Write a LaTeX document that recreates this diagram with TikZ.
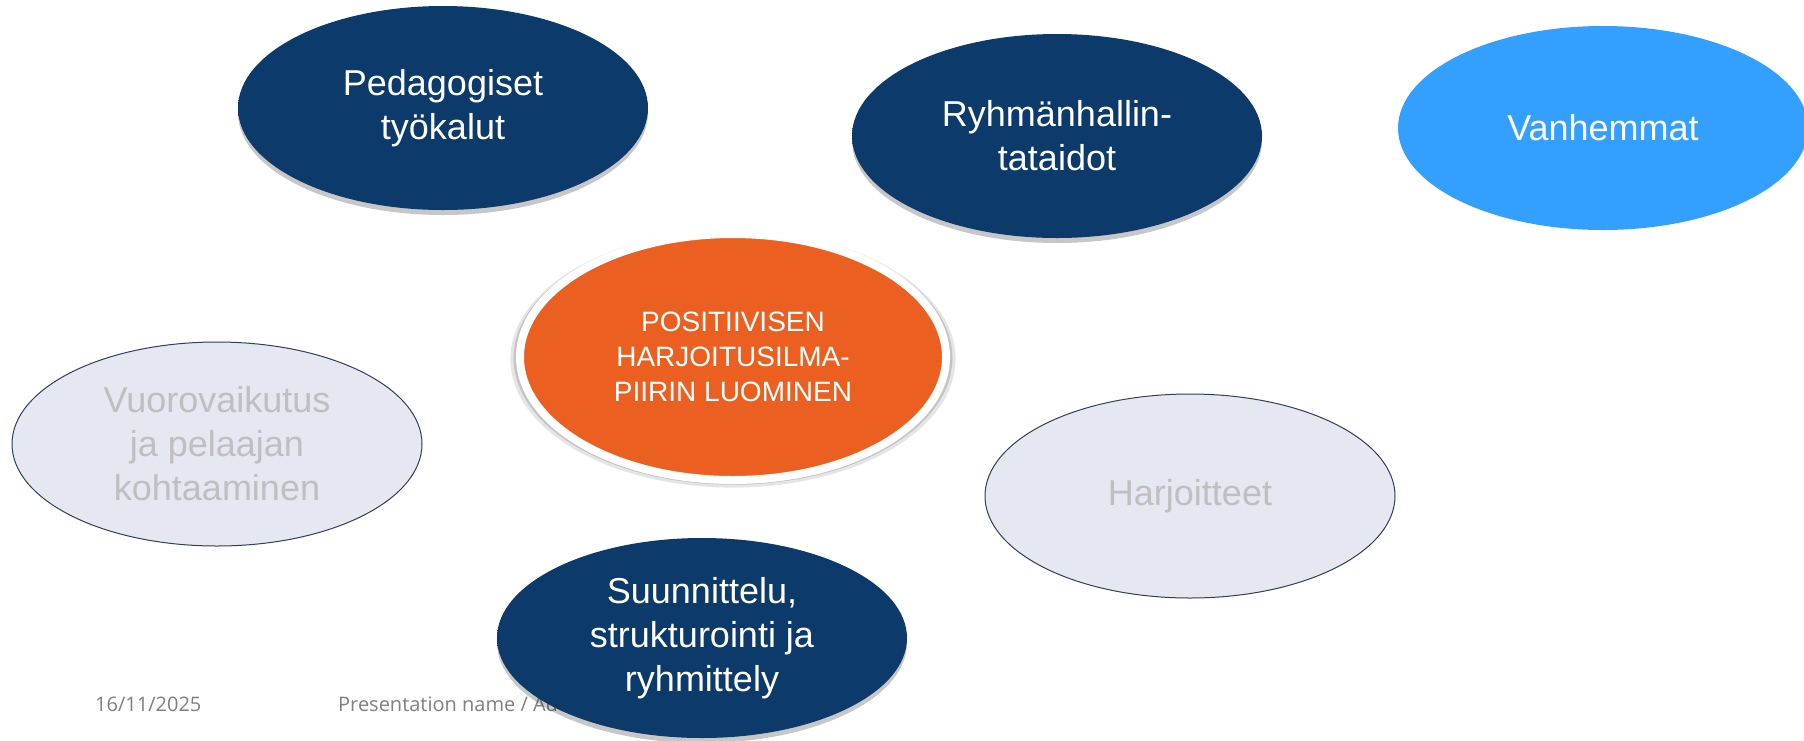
\documentclass[tikz,border=0pt]{standalone}
\usepackage{fontspec}
\setmainfont{Liberation Sans}
\newfontfamily\footfont{Open Sans}
\usepackage{tikz}
\usetikzlibrary{shapes.geometric, shadows}

\definecolor{NavyCore}{HTML}{0B3A6B}
\definecolor{NavyRim}{HTML}{4A7DB3}
\definecolor{PaleCore}{HTML}{E5E8F1}
\definecolor{PaleRim}{HTML}{A3BCD9}
\definecolor{PaleEdge}{HTML}{2E405A}
\definecolor{PaleText}{HTML}{BFBFBF}
\definecolor{OrangeCore}{HTML}{EB6021}
\definecolor{OrangeRim}{HTML}{D9521A}
\definecolor{SkyBlue}{HTML}{33A0FF}
\definecolor{FootGray}{HTML}{808080}

\pgfdeclareradialshading{navybevel}{\pgfpoint{0bp}{0bp}}{%
  color(0bp)=(NavyCore); color(43bp)=(NavyCore);
  color(48bp)=(NavyCore!70!NavyRim); color(50bp)=(NavyRim)}
\pgfdeclareradialshading{palebevel}{\pgfpoint{0bp}{0bp}}{%
  color(0bp)=(PaleCore); color(43bp)=(PaleCore);
  color(48bp)=(PaleRim!70!PaleCore); color(49.5bp)=(PaleRim);
  color(50bp)=(PaleEdge)}
\pgfdeclareradialshading{orangebevel}{\pgfpoint{0bp}{0bp}}{%
  color(0bp)=(OrangeCore); color(45bp)=(OrangeCore);
  color(50bp)=(OrangeRim)}

\tikzstyle{oval} = [
  ellipse, inner sep=0pt, align=center,
  minimum width=410pt, minimum height=204pt,
  font=\fontsize{36}{44}\selectfont
]
\tikzstyle{darkoval} = [
  oval, shading=navybevel, text=white,
  drop shadow={shadow xshift=0pt, shadow yshift=-5pt,
               opacity=.22, fill=black}
]
\tikzstyle{paleoval} = [
  oval, shading=palebevel, draw=PaleEdge, line width=1pt,
  text=PaleText
]
\tikzstyle{coreoval} = [
  ellipse, inner sep=0pt, align=center,
  minimum width=426pt, minimum height=246pt,
  shading=orangebevel, draw=white, line width=8pt, text=white,
  font=\fontsize{28}{35}\selectfont,
  drop shadow={shadow xshift=0pt, shadow yshift=-2pt,
               shadow scale=1.045, opacity=.10, fill=black},
  drop shadow={shadow xshift=0pt, shadow yshift=-1pt,
               shadow scale=1.03, opacity=.14, fill=black}
]

\begin{document}
\begin{tikzpicture}[x=1pt, y=-1pt]

  \useasboundingbox[fill=white] (0,0) rectangle (1804,740);

  % Footer
  \node[anchor=base west, inner sep=0pt, text=FootGray,
        font=\footfont\fontsize{20}{24}\selectfont]
    (date) at (95,711) {16/11/2025};
  \node[anchor=base west, inner sep=0pt, text=FootGray,
        font=\footfont\fontsize{20}{24}\selectfont]
    (footer) at (338,711) {Presentation name / Author};

  % Outer topics
  \node[darkoval] (pedagogy) at (443,108) {Pedagogiset\\työkalut};
  \node[darkoval] (groupskills) at (1057,136) {Ryhmänhallin-\\tataidot};
  \node[oval, fill=SkyBlue, text=white] (parents) at (1603,128) {Vanhemmat};
  \node[paleoval] (interaction) at (217,444) {Vuorovaikutus\\ja pelaajan\\kohtaaminen};
  \node[paleoval] (drills) at (1190,496) {Harjoitteet};
  \node[darkoval, minimum height=200pt] (planning) at (702,638)
    {Suunnittelu,\\strukturointi ja\\ryhmittely};

  % Central topic
  \node[coreoval] (climate) at (733,357)
    {POSITIIVISEN\\HARJOITUSILMA-\\PIIRIN LUOMINEN};

\end{tikzpicture}
\end{document}
